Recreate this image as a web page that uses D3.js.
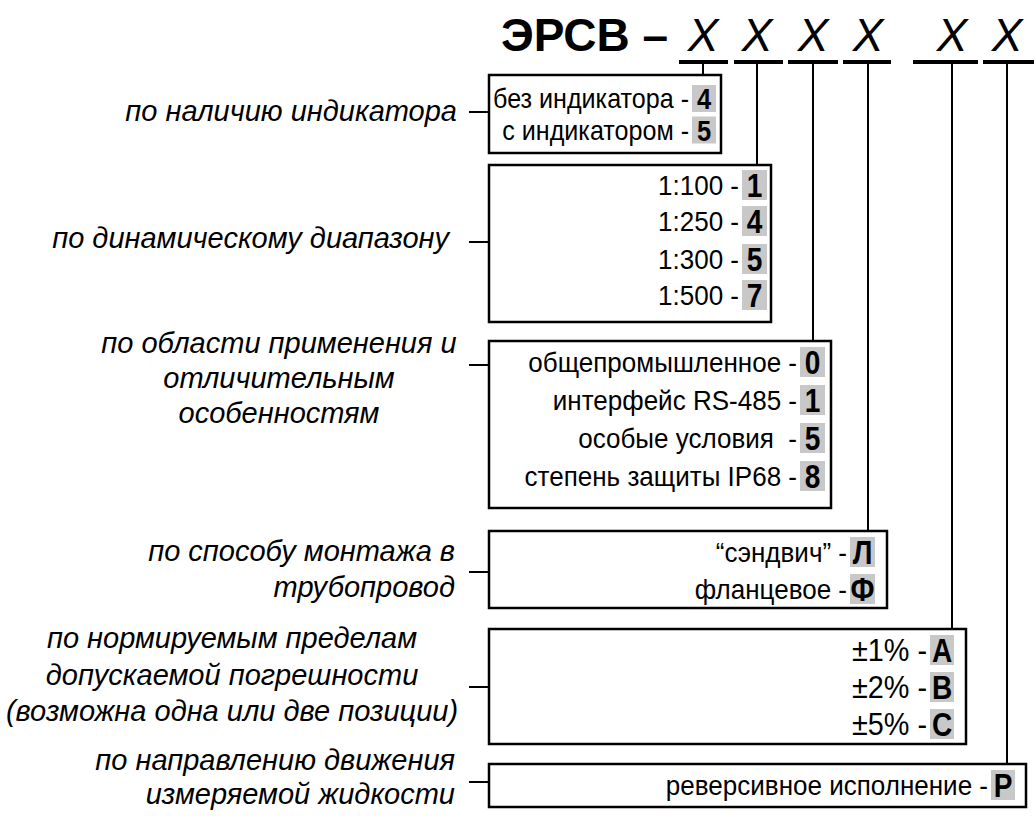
<!DOCTYPE html>
<html><head><meta charset="utf-8">
<script src="https://cdn.jsdelivr.net/npm/d3@7"></script>
<style>
html,body{margin:0;padding:0;background:#fff;}
svg{display:block;}
</style>
</head><body>
<svg id="c" width="1036" height="819"></svg>
<script>
// ---- data ----
const titleText = "ЭРСВ –";
const positionMarks = ["X", "X", "X", "X", "X", "X"];
const groupLabels = [
  ["по наличию индикатора"],
  ["по динамическому диапазону"],
  ["по области применения и", "отличительным", "особенностям"],
  ["по способу монтажа в", "трубопровод"],
  ["по нормируемым пределам", "допускаемой погрешности", "(возможна одна или две позиции)"],
  ["по направлению движения", "измеряемой жидкости"]
];
const groupOptions = [
  ["без индикатора -", "с индикатором -"],
  ["1:100 -", "1:250 -", "1:300 -", "1:500 -"],
  ["общепромышленное -", "интерфейс RS-485 -", "особые условия  -", "степень защиты IP68 -"],
  ["“сэндвич” -", "фланцевое -"],
  ["±1% -", "±2% -", "±5% -"],
  ["реверсивное исполнение -"]
];
const groupCodes = [
  ["4", "5"],
  ["1", "4", "5", "7"],
  ["0", "1", "5", "8"],
  ["Л", "Ф"],
  ["A", "B", "C"],
  ["P"]
];

// ---- layout (positions only) ----
const slotX = [703, 757, 813, 868, 952, 1007];
const underlineSpans = [[679,728],[734,783],[788,838],[843,891],[913,978],[983,1034]];
const boxLeft = 489;
const boxGeom = [
  {y0:75,  y1:153, x1:721,  rows:[98.5,130],        conn:112, grey:[692,716], fs:27, cfs:30, gh:27},
  {y0:165, y1:322, x1:771,  rows:[185,221,259,295], conn:242, grey:[742,767], fs:28, cfs:33, gh:30},
  {y0:341, y1:508, x1:831,  rows:[362,400,438,476], conn:365, grey:[800,825], fs:28, cfs:33, gh:30},
  {y0:531, y1:608, x1:887,  rows:[552,589],         conn:572, grey:[850,875], fs:28, cfs:33, gh:30},
  {y0:629, y1:744, x1:966,  rows:[650,687,724],     conn:687, grey:[930,954], fs:31, cfs:33, gh:30},
  {y0:764, y1:807, x1:1026, rows:[785],             conn:782, grey:[991,1015], fs:28, cfs:33, gh:30}
];
const labelGeom = [
  {anchor:"end",    x:457, base:[121]},
  {anchor:"end",    x:449, base:[248]},
  {anchor:"middle", x:279, base:[353,388,423]},
  {anchor:"end",    x:455, base:[561,597]},
  {anchor:"middle", x:232, base:[648,685,721]},
  {anchor:"end",    x:455, base:[770,804]}
];

const svg = d3.select("#c");
const FONT = "'Liberation Sans', Arial, 'DejaVu Sans', sans-serif";

// title
svg.append("text").attr("x", 501).attr("y", 51)
  .attr("font-family", FONT).attr("font-weight", "bold").attr("font-size", 46)
  .text(titleText);

// X marks
svg.selectAll("text.mark").data(positionMarks).join("text")
  .attr("class","mark")
  .attr("x", (d,i) => slotX[i]).attr("y", 51)
  .attr("text-anchor","middle")
  .attr("font-family", FONT).attr("font-style","italic").attr("font-size", 46)
  .text(d => d);

// underlines
svg.selectAll("line.ul").data(underlineSpans).join("line")
  .attr("class","ul")
  .attr("x1", d => d[0]).attr("x2", d => d[1])
  .attr("y1", 62).attr("y2", 62)
  .attr("stroke", "#000").attr("stroke-width", 4);

// verticals
svg.selectAll("line.vt").data(boxGeom).join("line")
  .attr("class","vt")
  .attr("x1", (d,i) => slotX[i]).attr("x2", (d,i) => slotX[i])
  .attr("y1", 62).attr("y2", d => d.y0)
  .attr("stroke", "#000").attr("stroke-width", 2);

// groups
groupOptions.forEach((opts, gi) => {
  const g = boxGeom[gi];
  const L = labelGeom[gi];
  svg.append("rect")
    .attr("x", boxLeft).attr("y", g.y0)
    .attr("width", g.x1 - boxLeft).attr("height", g.y1 - g.y0)
    .attr("fill", "#fff").attr("stroke", "#000").attr("stroke-width", 2.5);
  svg.append("line")
    .attr("x1", 469).attr("x2", boxLeft)
    .attr("y1", g.conn).attr("y2", g.conn)
    .attr("stroke", "#000").attr("stroke-width", 2);
  opts.forEach((t, ri) => {
    const cy = g.rows[ri];
    svg.append("rect")
      .attr("x", g.grey[0]).attr("y", cy - g.gh / 2)
      .attr("width", g.grey[1] - g.grey[0]).attr("height", g.gh)
      .attr("fill", "#c8c8c8");
    svg.append("g")
      .attr("transform", `translate(${(g.grey[0] + g.grey[1]) / 2},${cy + g.cfs * 0.36}) scale(0.85,1)`)
      .append("text")
      .attr("text-anchor", "middle")
      .attr("font-family", FONT).attr("font-weight", "bold").attr("font-size", g.cfs)
      .text(groupCodes[gi][ri]);
    svg.append("g")
      .attr("transform", `translate(${g.grey[0] - 3},${cy + g.fs * 0.36}) scale(0.93,1)`)
      .append("text")
      .attr("text-anchor", "end")
      .attr("font-family", FONT).attr("font-size", g.fs)
      .style("white-space", "pre")
      .text(t);
  });
  groupLabels[gi].forEach((t, li) => {
    svg.append("text")
      .attr("x", L.x).attr("y", L.base[li])
      .attr("text-anchor", L.anchor)
      .attr("font-family", FONT).attr("font-style", "italic").attr("font-size", 29)
      .text(t);
  });
});
</script>
</body></html>
